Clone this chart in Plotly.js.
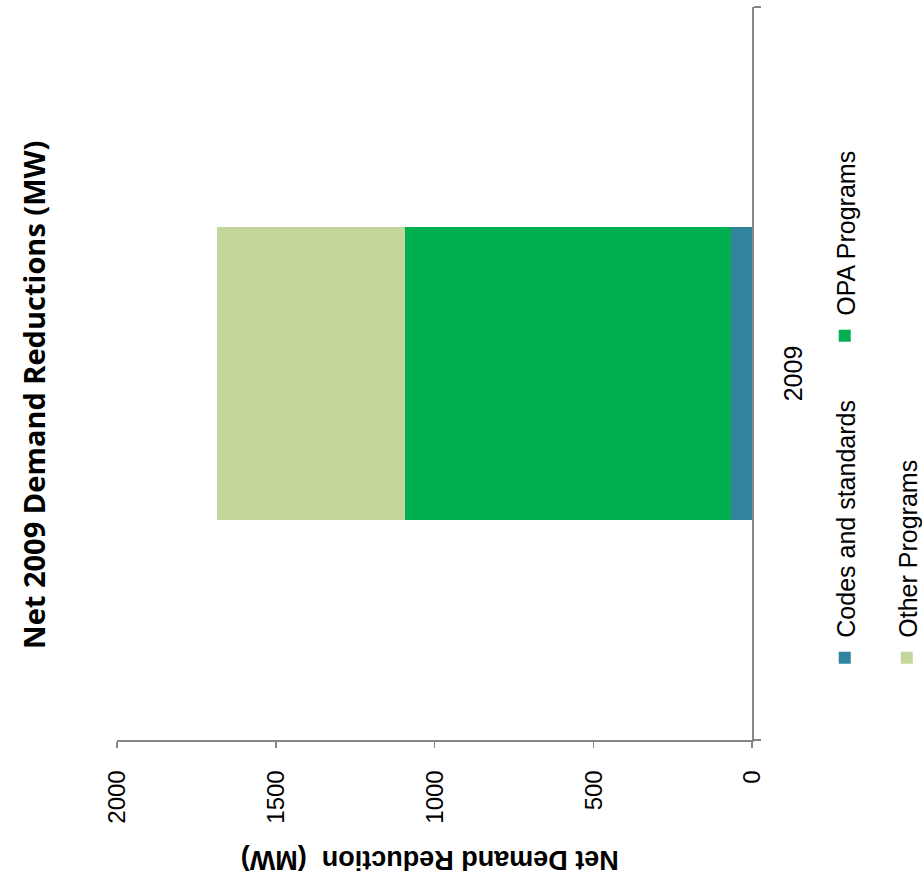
<!DOCTYPE html>
<html>
<head>
<meta charset="utf-8">
<script src="https://cdn.plot.ly/plotly-3.0.1.min.js"></script>
<style>
  html, body { margin: 0; padding: 0; width: 922px; height: 877px; overflow: hidden; background: #fff; }
  #chart { position: absolute; left: 0; top: 0; width: 877px; height: 922px;
           transform-origin: 0 0; transform: translate(0px, 877px) rotate(-90deg); }
</style>
</head>
<body>
<div id="chart"></div>
<script>
const categories = ['2009'];
const seriesNames = ['Codes and standards', 'OPA Programs', 'Other Programs'];
const codesAndStandards = [65];
const opaPrograms = [1027];
const otherPrograms = [593];
const valueTicks = [0, 500, 1000, 1500, 2000];
const colors = ['#31849B', '#00B050', '#C3D69B'];

const axisFont = { family: 'Liberation Sans, Arial, sans-serif', size: 24, color: '#000' };
const legendFont = { family: 'Liberation Sans, Arial, sans-serif', size: 25, color: '#000' };

const traces = [codesAndStandards, opaPrograms, otherPrograms].map((vals, i) => ({
  type: 'bar',
  x: categories,
  y: vals,
  name: seriesNames[i],
  marker: { color: colors[i], line: { width: 0 } },
  legend: i === 2 ? 'legend2' : 'legend',
  hoverinfo: 'none'
}));

const legendCommon = {
  orientation: 'h',
  xanchor: 'left',
  yanchor: 'middle',
  yref: 'container',
  font: legendFont,
  bgcolor: 'rgba(0,0,0,0)',
  entrywidth: 277,
  traceorder: 'normal'
};

const layout = {
  width: 877,
  height: 922,
  margin: { l: 137, r: 7, t: 117, b: 170 },
  paper_bgcolor: '#fff',
  plot_bgcolor: '#fff',
  barmode: 'stack',
  bargap: 0.6,
  showlegend: true,
  title: {
    text: 'Net 2009 Demand Reductions (MW)',
    font: { family: 'Open Sans, sans-serif', size: 29, color: '#000', weight: 'bold' },
    x: 0.471, xref: 'paper', xanchor: 'center',
    y: 1 - 35 / 922, yref: 'container', yanchor: 'middle'
  },
  xaxis: {
    type: 'category',
    range: [-0.5, 0.5],
    showline: true, linecolor: '#868686', linewidth: 1.5,
    ticks: 'outside', tickson: 'boundaries', ticklen: 7, tickcolor: '#868686', tickwidth: 1.5,
    showgrid: false, zeroline: false,
    tickfont: legendFont,
    ticklabelstandoff: 18
  },
  yaxis: {
    range: [0, 2000],
    tickvals: valueTicks,
    ticktext: valueTicks.map(String),
    showline: true, linecolor: '#868686', linewidth: 1.5,
    ticks: 'outside', ticklen: 6, tickcolor: '#868686', tickwidth: 1.5,
    showgrid: false, zeroline: false,
    tickfont: axisFont,
    ticklabelstandoff: 18
  },
  legend: Object.assign({}, legendCommon, { x: 0.085, y: 1 - 845 / 922 }),
  legend2: Object.assign({}, legendCommon, { x: 0.085, y: 1 - 907 / 922 }),
  annotations: [{
    text: '<b>Net Demand Reduction  (MW)</b>',
    xref: 'paper', yref: 'paper',
    x: -120 / 732, y: (752 - 430) / 635,
    xanchor: 'center', yanchor: 'middle',
    textangle: -90, showarrow: false,
    font: { family: 'Liberation Sans, Arial, sans-serif', size: 27, color: '#000' }
  }]
};

Plotly.newPlot('chart', traces, layout, { displayModeBar: false, staticPlot: true });
</script>
</body>
</html>
